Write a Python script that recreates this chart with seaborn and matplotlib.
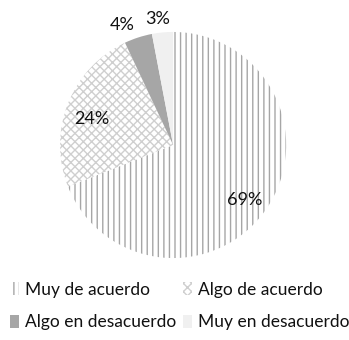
import matplotlib
matplotlib.use("Agg")
import matplotlib.pyplot as plt
import seaborn as sns
import numpy as np

# Datos del gráfico
categorias = ["Muy de acuerdo", "Algo de acuerdo", "Algo en desacuerdo", "Muy en desacuerdo"]
porcentajes = [69, 24, 4, 3]

sns.set_style("white")
plt.rcParams['font.family'] = ['Lato', 'DejaVu Sans']
plt.rcParams['hatch.linewidth'] = 1.0

rellenos = ['white', 'white', '#a6a6a6', '#f0f0f0']
tramas = ['|||', 'xxxx', '', '']
color_trama = ['#a6a6a6', '#cfcfcf', '#a6a6a6', '#f0f0f0']

fig = plt.figure(figsize=(3.49, 3.40), dpi=100)
ax = fig.add_axes([0.172, 0.241, 0.648, 0.665])

wedges, textos, pcts = ax.pie(porcentajes, startangle=90, counterclock=False,
                              autopct='%d%%', pctdistance=0.77,
                              textprops={'fontsize': 13, 'color': '#111111'})
for w, fc, h, hc in zip(wedges, rellenos, tramas, color_trama):
    w.set_facecolor(fc)
    w.set_hatch(h)
    w.set_edgecolor(hc)
    w.set_linewidth(0)

# reubicar etiquetas: las pequeñas fuera del círculo
for w, t, p in zip(wedges, pcts, porcentajes):
    ang = np.deg2rad((w.theta1 + w.theta2) / 2)
    if p < 10:
        t.set_position((1.45 * np.cos(ang), 1.12 * np.sin(ang)))
    else:
        t.set_position((0.77 * np.cos(ang), 0.77 * np.sin(ang) - 0.05))

ax.set_xlim(-1, 1)
ax.set_ylim(-1, 1)
ax.set_aspect('equal')
ax.axis('off')

# la leyenda se llena por filas
orden = [0, 2, 1, 3]
leg = fig.legend([wedges[i] for i in orden], [categorias[i] for i in orden],
                 ncol=2, loc='lower left',
                 bbox_to_anchor=(0.0, -0.002), frameon=False, fontsize=12.5,
                 handlelength=0.5, handleheight=0.75, handletextpad=0.35,
                 columnspacing=0.4, labelspacing=0.95, borderaxespad=0.2)
for t in leg.get_texts():
    t.set_color('#111111')

fig.savefig("out.png", dpi=100)
